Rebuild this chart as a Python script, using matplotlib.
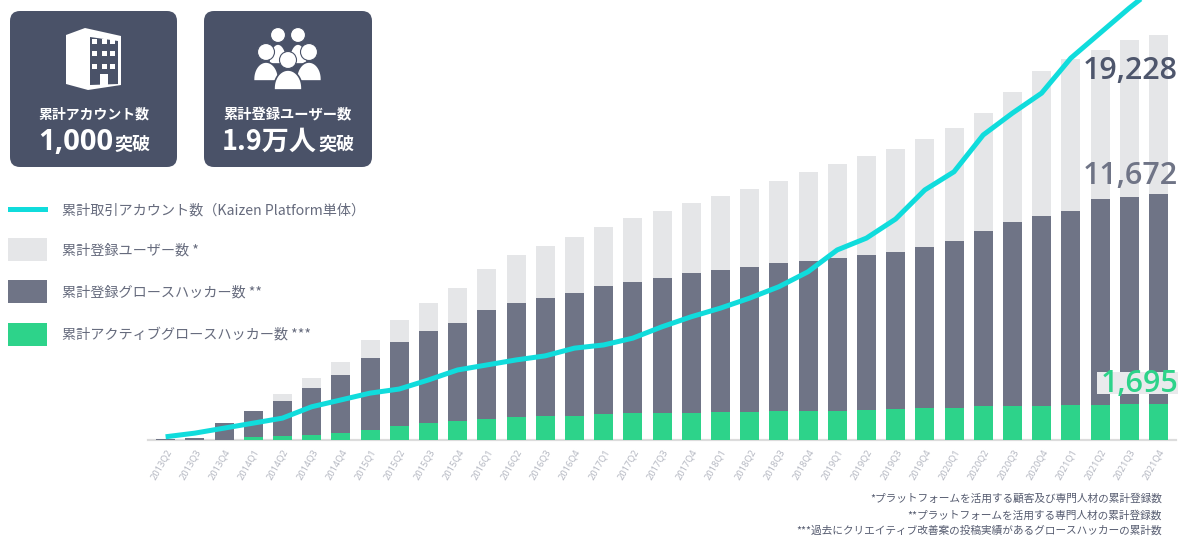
import numpy as np
import matplotlib
matplotlib.use("Agg")
import matplotlib.pyplot as plt
from matplotlib.patches import FancyBboxPatch, Polygon, Circle, Rectangle

plt.rcParams['font.family'] = ['Noto Sans CJK JP', 'DejaVu Sans']

quarters = ['2013Q2', '2013Q3', '2013Q4',
            '2014Q1', '2014Q2', '2014Q3', '2014Q4',
            '2015Q1', '2015Q2', '2015Q3', '2015Q4',
            '2016Q1', '2016Q2', '2016Q3', '2016Q4',
            '2017Q1', '2017Q2', '2017Q3', '2017Q4',
            '2018Q1', '2018Q2', '2018Q3', '2018Q4',
            '2019Q1', '2019Q2', '2019Q3', '2019Q4',
            '2020Q1', '2020Q2', '2020Q3', '2020Q4',
            '2021Q1', '2021Q2', '2021Q3', '2021Q4']
users = [20, 70, 784, 1355, 2163, 2923, 3684, 4729, 5680, 6488, 7201, 8104,
         8769, 9197, 9625, 10100, 10528, 10861, 11241, 11574, 11906, 12287,
         12714, 13095, 13475, 13807, 14283, 14806, 15519, 16517, 17515, 18085,
         18513, 18988, 19228]
hackers = [20, 70, 784, 1355, 1830, 2448, 3066, 3874, 4634, 5157, 5537, 6155,
           6488, 6726, 6963, 7296, 7486, 7676, 7914, 8056, 8199, 8389, 8484,
           8627, 8769, 8912, 9150, 9435, 9910, 10338, 10623, 10861, 11431,
           11526, 11672]
active = [0, 0, 0, 105, 166, 214, 309, 452, 642, 784, 879, 974, 1046, 1117,
          1117, 1212, 1236, 1260, 1260, 1293, 1321, 1355, 1369, 1369, 1416,
          1450, 1511, 1511, 1578, 1607, 1607, 1654, 1654, 1687, 1695]
accounts = [6, 14, 25, 36, 47, 72, 87, 102, 111, 131, 153, 164, 175, 184, 201,
            208, 223, 248, 270, 289, 311, 336, 369, 417, 443, 485, 549, 589,
            670, 718, 762, 839, 894, 949, 1000]

legend_labels = ['累計取引アカウント数（Kaizen Platform単体）', '累計登録ユーザー数 *',
                 '累計登録グロースハッカー数 **', '累計アクティブグロースハッカー数 ***']
footnotes = ['*プラットフォームを活用する顧客及び専門人材の累計登録数',
             '**プラットフォームを活用する専門人材の累計登録数',
             '***過去にクリエイティブ改善案の投稿実績があるグロースハッカーの累計数']

C_LIGHT, C_DARK, C_GREEN, C_LINE = '#e5e6e8', '#6f7486', '#2dd38a', '#10dcdc'
C_PANEL, C_TEXT = '#4a5268', '#666b7d'
W, H = 1180, 536
BASE = 439.5

fig = plt.figure(figsize=(W / 100, H / 100), dpi=100, facecolor='white')

# chart axes: spans x 148..1176 px, y 0..BASE px
ax = fig.add_axes([148 / W, (H - BASE) / H, (1176 - 148) / W, BASE / H])
ax.set_xlim((148 - 165.6) / 29.2, (1176 - 165.6) / 29.2)
ax.set_ylim(0, BASE / 0.02104)
x = np.arange(len(quarters))
bw = 19 / 29.2
ax.bar(x, users, bw, color=C_LIGHT, zorder=2)
ax.bar(x, hackers, bw, color=C_DARK, zorder=3)
ax.bar(x, active, bw, color=C_GREEN, zorder=4)
for s in ['top', 'left', 'right']:
    ax.spines[s].set_visible(False)
ax.spines['bottom'].set_color('#dcdcdc')
ax.spines['bottom'].set_linewidth(1.6)
ax.spines['bottom'].set_zorder(1)
ax.set_yticks([])
ax.set_xticks(x)
ax.set_xticklabels(quarters, rotation=60, ha='right', va='top', rotation_mode='anchor',
                   fontsize=6.6, color='#b4b7c1', family='Noto Sans')
ax.tick_params(axis='x', length=0, pad=6)
ax.patch.set_alpha(0)

ax2 = ax.twinx()
ax2.set_ylim(0, BASE * 2.2)
ax2.plot(x, accounts, color=C_LINE, lw=3.6, solid_capstyle='butt', solid_joinstyle='round', zorder=5)
ax2.set_yticks([])
for s in ax2.spines.values():
    s.set_visible(False)
ax2.patch.set_alpha(0)

# overlay in pixel coordinates for panels, legend, labels
ov = fig.add_axes([0, 0, 1, 1], zorder=10)
ov.set_xlim(0, W)
ov.set_ylim(H, 0)
ov.axis('off')
ov.patch.set_alpha(0)

for (x0, x1) in [(10, 177), (204, 372)]:
    ov.add_patch(FancyBboxPatch((x0 + 10, 21), x1 - x0 - 20, 136,
                                boxstyle='round,pad=10,rounding_size=10',
                                fc=C_PANEL, ec='none'))

# building icon
ov.add_patch(Polygon([(66, 35), (85, 28), (121, 36), (121, 85), (88, 90), (66, 84)], fc='white', ec='none'))
ov.add_patch(Polygon([(90, 37), (118, 41), (118, 84), (90, 85)], fc=C_PANEL, ec='none'))
for wy in (41, 53, 66):
    for wx in (94, 104, 112):
        ov.add_patch(Rectangle((wx - 2.5, wy - 2.5), 5, 5, fc='white', ec='none'))
ov.add_patch(Rectangle((100, 74), 8, 12, fc='white', ec='none'))

# people icon
def person(cx, hy, hr, by, bw_, bh):
    t = np.linspace(np.pi, 2 * np.pi, 40)
    body = np.c_[cx + bw_ * np.cos(t), by + bh * np.sin(t)]
    body = np.vstack([body, [cx + bw_, by + 2], [cx - bw_, by + 2]])
    ov.add_patch(Polygon(body, fc='white', ec=C_PANEL, lw=1.2))
    ov.add_patch(Circle((cx, hy), hr, fc='white', ec=C_PANEL, lw=0.8))

person(278, 35, 7.5, 62, 9, 18)
person(298, 35, 7.5, 62, 9, 18)
person(266, 52, 8.5, 79, 12.5, 17)
person(309, 52, 8.5, 79, 12.5, 17)
person(288, 60, 8.5, 88, 14, 18)

# panel text
ov.text(94, 115, '累計アカウント数', color='white', fontsize=10, fontweight='bold', ha='center', va='center')
ov.text(288, 115, '累計登録ユーザー数', color='white', fontsize=10.3, fontweight='bold', ha='center', va='center')
ov.text(113, 143, '1,000', color='white', fontsize=21, fontweight='bold', ha='right', va='center', family='Open Sans')
ov.text(114, 144, '突破', color='white', fontsize=13, fontweight='bold', ha='left', va='center')
ov.text(317, 142, '1.9万人', color='white', fontsize=19.5, fontweight='bold', ha='right', va='center')
ov.text(318, 144, '突破', color='white', fontsize=13, fontweight='bold', ha='left', va='center')

# legend
ov.add_patch(Rectangle((8, 206.5), 40, 5, fc=C_LINE, ec='none'))
for y0, c in [(238, C_LIGHT), (280, C_DARK), (323, C_GREEN)]:
    ov.add_patch(Rectangle((8, y0), 39, 23, fc=c, ec='none'))
for y0, t in zip((210, 250, 292, 334), legend_labels):
    ov.text(62, y0, t, color=C_TEXT, fontsize=10.2, ha='left', va='center')

# value labels
ov.text(1178, 71, f'{users[-1]:,}', color='#4e566c', fontsize=22, fontweight='semibold', ha='right', va='center', family='Open Sans')
ov.text(1178, 176, f'{hackers[-1]:,}', color='#6f7486', fontsize=22, fontweight='semibold', ha='right', va='center', family='Open Sans')
ov.add_patch(Rectangle((1097, 372), 81, 22, fc='#e9eaec', ec='none'))
ov.text(1178, 384, f'{active[-1]:,}', color=C_GREEN, fontsize=22, fontweight='semibold', ha='right', va='center', family='Open Sans')

# footnotes
for y0, t in zip((498, 515, 531), footnotes):
    ov.text(1162, y0, t, color='#565c70', fontsize=7.7, ha='right', va='center')

fig.savefig('out.png', dpi=100, facecolor='white')
